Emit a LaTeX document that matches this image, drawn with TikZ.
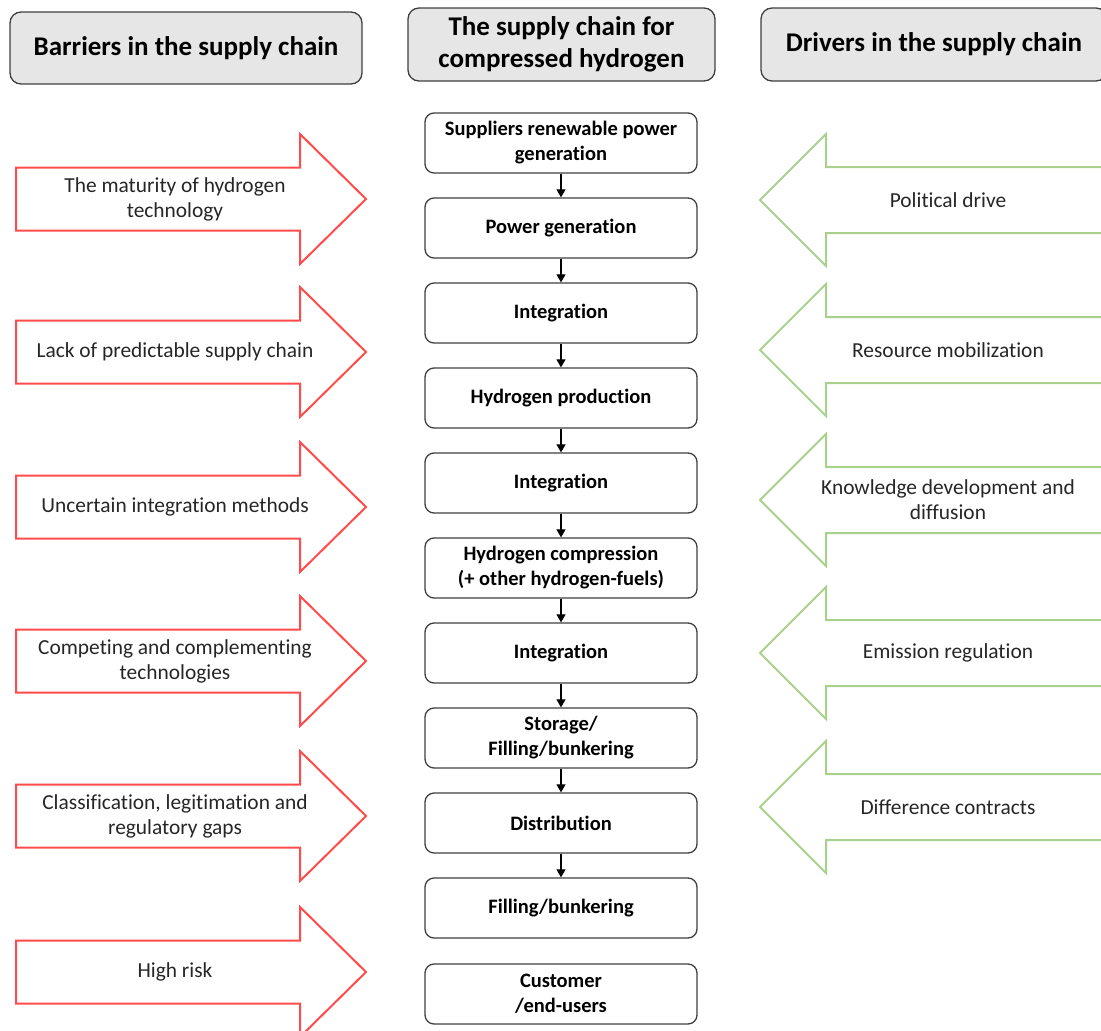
\documentclass[tikz,border=0pt]{standalone}
\usepackage{fontspec}
\setmainfont{Carlito}[Ligatures=NoCommon]
\usetikzlibrary{arrows.meta}
\definecolor{barrierred}{HTML}{FF4B4B}
\definecolor{drivergreen}{HTML}{A9D18E}
\definecolor{headfill}{HTML}{E7E6E6}
\definecolor{edgegray}{HTML}{3F3F3F}
\definecolor{textgray}{HTML}{262626}
\begin{document}
\begin{tikzpicture}[x=1pt,y=-1pt,
  header/.style={draw=edgegray, line width=1.3pt, fill=headfill, rounded corners=11pt,
    align=center, font=\fontsize{27}{32}\selectfont\bfseries, inner sep=0pt},
  stage/.style={draw=edgegray, line width=1.3pt, rounded corners=9pt,
    minimum width=272pt, minimum height=60pt, align=center,
    font=\fontsize{20.5}{25}\selectfont\bfseries, inner sep=0pt},
  flow/.style={-{Triangle[width=9pt,length=8pt]}, line width=1.1pt, black},
  barrier/.style={draw=barrierred, line width=2pt, line join=miter},
  driver/.style={draw=drivergreen, line width=2pt, line join=miter},
  arrowtext/.style={align=center, text=textgray, font=\fontsize{21.4}{25}\selectfont}
]
\clip (0,0) rectangle (1101,1031);

% column headers
\node[header, minimum width=352pt, minimum height=72pt] (hbar) at (186,48)
  {Barriers in the supply chain};
\node[header, minimum width=307pt, minimum height=73pt] (hchain) at (561.5,44.5)
  {The supply chain for\\compressed hydrogen};
\node[header, minimum width=346pt, minimum height=73pt] (hdrv) at (934,44.5)
  {Drivers in the supply chain};

% supply chain stages
\node[stage] (s0) at (561,143) {Suppliers renewable power\\generation};
\node[stage] (s1) at (561,228) {Power generation};
\node[stage] (s2) at (561,313) {Integration};
\node[stage] (s3) at (561,398) {Hydrogen production};
\node[stage] (s4) at (561,483) {Integration};
\node[stage] (s5) at (561,568) {Hydrogen compression\\(+ other hydrogen-fuels)};
\node[stage] (s6) at (561,653) {Integration};
\node[stage] (s7) at (561,738) {Storage/\\Filling/bunkering};
\node[stage] (s8) at (561,823) {Distribution};
\node[stage] (s9) at (561,908) {Filling/bunkering};
\node[stage] (s10) at (561,994) {Customer\\/end-users};

\foreach \i in {0,...,8}{
  \pgfmathtruncatemacro{\j}{\i+1}
  \draw[flow] (s\i.south) -- (s\j.north);
}

% barriers: block arrows pointing right
\foreach \yc/\txt [count=\k] in {
    199/{The maturity of hydrogen\\technology},
    352/{Lack of predictable supply chain},
    507/{Uncertain integration methods},
    661/{Competing and complementing\\technologies},
    816/{Classification, legitimation and\\regulatory gaps},
    972/{High risk}}{
  \draw[barrier] (16,\yc-31.5) -- (300,\yc-31.5) -- (300,\yc-65) -- (366,\yc)
    -- (300,\yc+65) -- (300,\yc+31.5) -- (16,\yc+31.5) -- cycle;
  \node[arrowtext] (bar\k) at (175,\yc) {\txt};
}

% drivers: block arrows pointing left
\foreach \yc/\txt [count=\k] in {
    200/{Political drive},
    350/{Resource mobilization},
    500/{Knowledge development and\\diffusion},
    653/{Emission regulation},
    807/{Difference contracts}}{
  \draw[driver] (1115,\yc-33) -- (826,\yc-33) -- (826,\yc-66) -- (760,\yc)
    -- (826,\yc+66) -- (826,\yc+33) -- (1115,\yc+33);
  \node[arrowtext] (drv\k) at (948,\yc) {\txt};
}
\end{tikzpicture}
\end{document}
